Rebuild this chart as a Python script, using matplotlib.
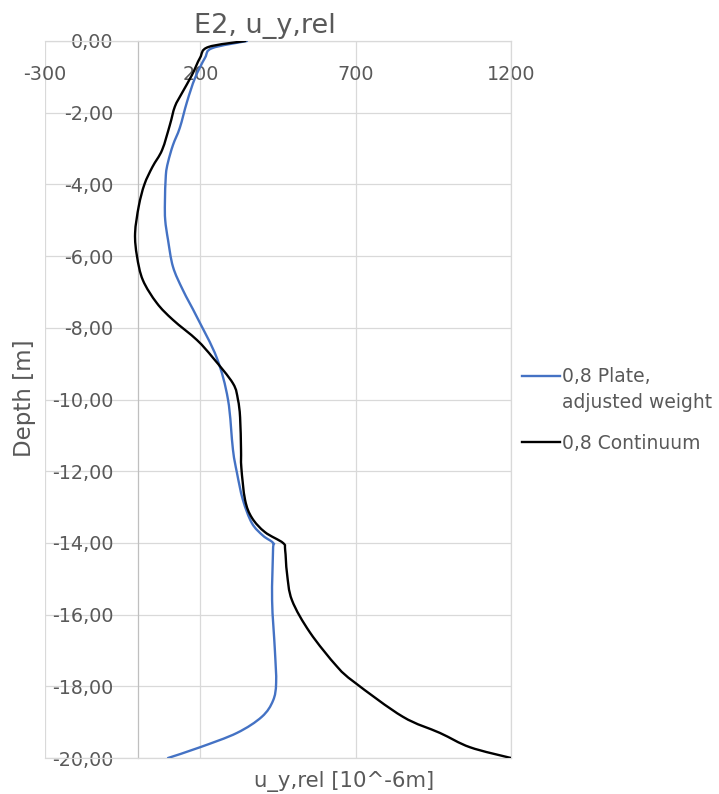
import matplotlib.pyplot as plt
import numpy as np
from matplotlib.path import Path
from matplotlib.patches import PathPatch
from matplotlib.lines import Line2D

plt.rcParams['font.family'] = ['DejaVu Sans']

# Relative horizontal displacement u_y,rel [10^-6 m] over depth [m]
plate_depth = [0.0, -0.2, -0.47, -1.03, -1.7, -2.42, -2.9, -3.38, -3.74, -4.5,
               -5.0, -5.55, -6.3, -6.95, -7.7, -8.84, -10.0, -11.4, -12.05,
               -12.8, -13.45, -13.8, -14.0, -14.2, -15.6, -17.0, -17.9, -18.4,
               -18.85, -19.3, -19.7, -20.0]
plate_uy = [350, 238, 215, 183, 157, 134, 112, 96, 89, 86,
            87, 96, 112, 144, 189, 253, 289, 305, 318,
            337, 366, 402, 434, 434, 431, 440, 444, 434,
            398, 318, 199, 96]

cont_depth = [0.0, -0.17, -0.47, -0.95, -1.45, -1.83, -2.34, -3.04, -3.51,
              -4.0, -4.6, -5.36, -6.0, -6.67, -7.31, -7.78, -8.34, -8.84,
              -9.55, -10.0, -10.5, -11.4, -11.9, -12.8, -13.3, -13.7, -14.0,
              -14.2, -14.85, -15.6, -16.5, -17.45, -17.9, -18.85, -19.3,
              -19.7, -20.0]
cont_uy = [345, 225, 199, 173, 141, 118, 102, 77, 46,
           20, 2, -10, -4, 15, 60, 112, 189, 241,
           305, 321, 328, 331, 332, 344, 366, 408, 466,
           473, 479, 495, 553, 640, 698, 852, 971,
           1068, 1200]

x_ticks = [-300, 200, 700, 1200]
y_ticks = list(range(0, -21, -2))

BLUE = '#4472C4'
TEXT = '#595959'
GRID = '#d9d9d9'


def smooth_path(xs, ys):
    """Catmull-Rom style Bezier path through the points (Excel 'smoothed line')."""
    p = np.column_stack([xs, ys]).astype(float)
    verts = [p[0]]
    codes = [Path.MOVETO]
    n = len(p)
    for i in range(n - 1):
        p0 = p[i - 1] if i > 0 else p[i]
        p3 = p[i + 2] if i + 2 < n else p[i + 1]
        c1 = p[i] + (p[i + 1] - p0) / 6.0
        c2 = p[i + 1] - (p3 - p[i]) / 6.0
        verts += [c1, c2, p[i + 1]]
        codes += [Path.CURVE4] * 3
    return Path(verts, codes)


fig = plt.figure(figsize=(7.19, 7.94), dpi=100)
ax = fig.add_axes([45 / 719, 1 - 758 / 794, 466 / 719, 717 / 794])

ax.add_patch(PathPatch(smooth_path(plate_uy, plate_depth), fill=False,
                       edgecolor=BLUE, linewidth=1.7, capstyle='round', zorder=3))
ax.add_patch(PathPatch(smooth_path(cont_uy, cont_depth), fill=False,
                       edgecolor='black', linewidth=1.7, capstyle='round', zorder=4))

ax.set_xlim(-300, 1200)
ax.set_ylim(-20, 0)
ax.set_xticks(x_ticks)
ax.set_yticks(y_ticks)
ax.set_xticklabels([str(v) for v in x_ticks])
ax.set_yticklabels([f'{v:.2f}'.replace('.', ',') for v in y_ticks])

ax.grid(True, color=GRID, linewidth=0.9, zorder=0)
ax.set_axisbelow(True)
for side in ['right', 'bottom', 'top']:
    ax.spines[side].set_color(GRID)
    ax.spines[side].set_linewidth(0.9)
ax.spines['left'].set_position(('data', 0))
ax.spines['left'].set_color('#bfbfbf')
ax.spines['left'].set_linewidth(0.9)

ax.xaxis.tick_top()
ax.tick_params(axis='x', length=0, pad=-31, labelsize=13.8, labelcolor=TEXT)
ax.tick_params(axis='y', length=0, pad=18, labelsize=13.8, labelcolor=TEXT)

fig.text(265 / 719, 1 - 33 / 794, 'E2, u_y,rel', ha='center', va='baseline',
         fontsize=19.5, color=TEXT)
fig.text(344 / 719, 1 - 787 / 794, 'u_y,rel [10^-6m]', ha='center', va='baseline',
         fontsize=15.3, color=TEXT)
fig.text(24 / 719, 1 - 398 / 794, 'Depth [m]', ha='center', va='center',
         rotation=90, fontsize=16.5, color=TEXT)

# legend: line sample, then label lines placed on their baselines
legend_rows = [(376, BLUE, ['0,8 Plate,', 'adjusted weight'], [382, 408]),
               (442, 'black', ['0,8 Continuum'], [449])]
for y_px, color, lines, baselines in legend_rows:
    fy = 1 - y_px / 794
    fig.add_artist(Line2D([522 / 719, 560 / 719], [fy, fy], color=color,
                          linewidth=1.7, transform=fig.transFigure))
    for txt, base in zip(lines, baselines):
        fig.text(562 / 719, 1 - base / 794, txt, ha='left', va='baseline',
                 fontsize=13.5, color=TEXT)

fig.savefig('out.png', dpi=100)
